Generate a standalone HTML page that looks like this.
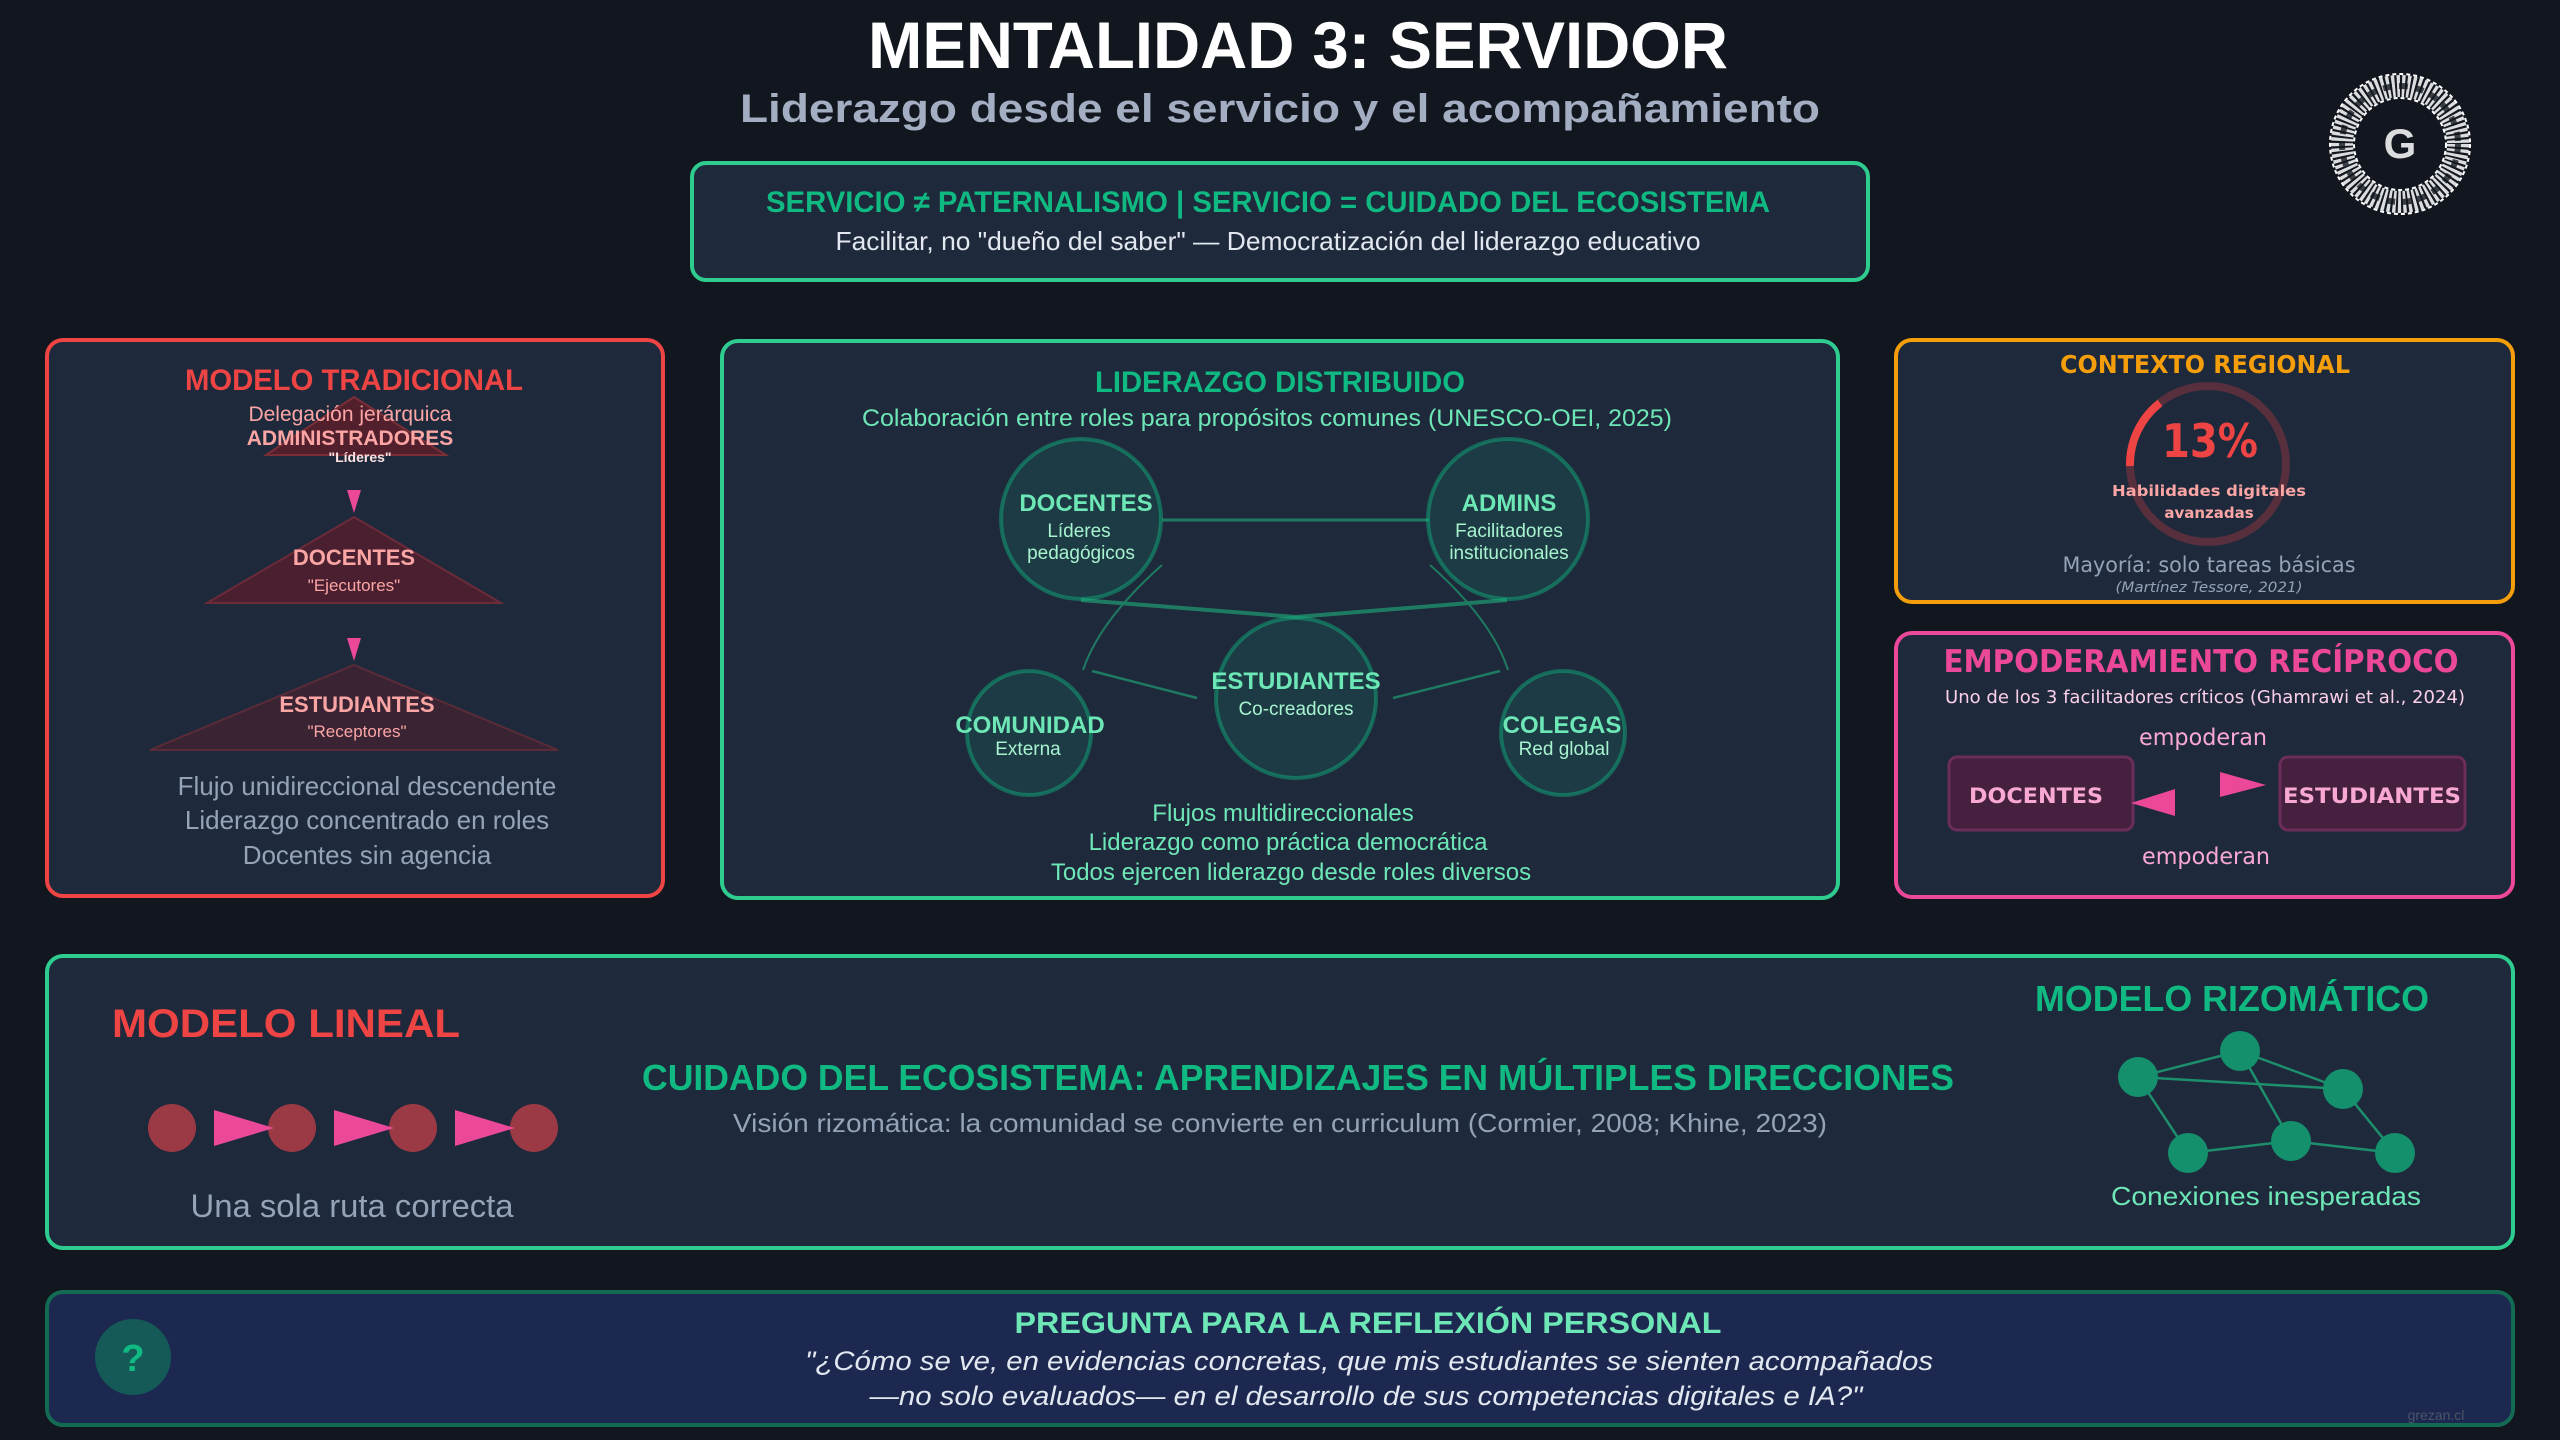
<!DOCTYPE html>
<html><head><meta charset="utf-8"><style>
html,body{margin:0;padding:0;background:#12161f;}
svg{display:block}
text{font-family:"Liberation Sans",Arial,sans-serif}
.dj{font-family:"DejaVu Sans","Liberation Sans",sans-serif}
</style></head><body>
<svg width="2560" height="1440" viewBox="0 0 2560 1440" xmlns="http://www.w3.org/2000/svg">
<rect width="2560" height="1440" fill="#12161f"/>
<!-- header -->
<text x="1298" y="68" font-size="66" font-weight="bold" fill="#ffffff" text-anchor="middle" textLength="860" lengthAdjust="spacingAndGlyphs">MENTALIDAD 3: SERVIDOR</text>
<text x="1280" y="122" font-size="40" font-weight="bold" fill="#a3aec2" text-anchor="middle" textLength="1080" lengthAdjust="spacingAndGlyphs">Liderazgo desde el servicio y el acompañamiento</text>
<!-- logo -->
<g transform="translate(2400,144)">
<circle r="58" fill="none" stroke="#ffffff" stroke-width="22" stroke-dasharray="3 2" opacity="0.85"/>
<circle r="58" fill="none" stroke="#12161f" stroke-width="6" stroke-dasharray="9 7" opacity="0.8"/>
<circle r="70" fill="none" stroke="#ffffff" stroke-width="2" stroke-dasharray="4 3"/>
<circle r="46" fill="none" stroke="#ffffff" stroke-width="2" stroke-dasharray="4 3"/>
<text x="0" y="14" font-size="42" font-weight="bold" fill="#ffffff" text-anchor="middle" opacity="0.85">G</text>
</g>
<!-- top box -->
<rect x="692" y="163" width="1176" height="117" rx="14" fill="#1e293b" stroke="#2ecc8f" stroke-width="4"/>
<text x="1268" y="212" font-size="30" font-weight="bold" fill="#10b981" text-anchor="middle" textLength="1004" lengthAdjust="spacingAndGlyphs">SERVICIO ≠ PATERNALISMO | SERVICIO = CUIDADO DEL ECOSISTEMA</text>
<text x="1268" y="250" font-size="26" fill="#e2e8f0" text-anchor="middle" textLength="865" lengthAdjust="spacingAndGlyphs">Facilitar, no "dueño del saber" — Democratización del liderazgo educativo</text>

<!-- left box -->
<rect x="47" y="340" width="616" height="556" rx="16" fill="#1e293b" stroke="#ef4444" stroke-width="4"/>
<text x="354" y="390" font-size="30" font-weight="bold" fill="#ef4444" text-anchor="middle" textLength="338" lengthAdjust="spacingAndGlyphs">MODELO TRADICIONAL</text>
<polygon points="354,397 446,455 266,455" fill="#5c1f2b" fill-opacity="0.85" stroke="#7a2e38" stroke-width="2"/>
<text x="350" y="421" font-size="21" fill="#fca5a5" text-anchor="middle">Delegación jerárquica</text>
<text x="350" y="445" font-size="21" font-weight="bold" fill="#fca5a5" text-anchor="middle">ADMINISTRADORES</text>
<text x="360" y="462" font-size="14" font-weight="bold" fill="#fde2e2" text-anchor="middle">"Líderes"</text>
<polygon points="347,490 361,490 354,513" fill="#ec4899"/>
<polygon points="354,517 501,603 207,603" fill="#4a2030" stroke="#6b2b38" stroke-width="2"/>
<text x="354" y="565" font-size="22" font-weight="bold" fill="#fca5a5" text-anchor="middle">DOCENTES</text>
<text x="354" y="591" font-size="17" fill="#fca5a5" text-anchor="middle">"Ejecutores"</text>
<polygon points="347,638 361,638 354,661" fill="#ec4899"/>
<polygon points="354,665 558,750 150,750" fill="#3a2333" stroke="#5a2b38" stroke-width="2"/>
<text x="357" y="712" font-size="22" font-weight="bold" fill="#fca5a5" text-anchor="middle">ESTUDIANTES</text>
<text x="357" y="737" font-size="17" fill="#fca5a5" text-anchor="middle">"Receptores"</text>
<text x="367" y="795" font-size="26" fill="#94a3b8" text-anchor="middle">Flujo unidireccional descendente</text>
<text x="367" y="829" font-size="26" fill="#94a3b8" text-anchor="middle">Liderazgo concentrado en roles</text>
<text x="367" y="864" font-size="26" fill="#94a3b8" text-anchor="middle">Docentes sin agencia</text>

<!-- center box -->
<rect x="722" y="341" width="1116" height="557" rx="16" fill="#1e293b" stroke="#2ecc8f" stroke-width="4"/>
<text x="1280" y="392" font-size="30" font-weight="bold" fill="#10b981" text-anchor="middle" textLength="370" lengthAdjust="spacingAndGlyphs">LIDERAZGO DISTRIBUIDO</text>
<text x="1267" y="426" font-size="24" fill="#6ee7b7" text-anchor="middle" textLength="810" lengthAdjust="spacingAndGlyphs">Colaboración entre roles para propósitos comunes (UNESCO-OEI, 2025)</text>
<g stroke="#1f7a62" fill="none">
<line x1="1162" y1="520" x2="1429" y2="520" stroke-width="3"/>
<line x1="1081" y1="600" x2="1296" y2="617" stroke-width="4"/>
<line x1="1507" y1="600" x2="1296" y2="617" stroke-width="4"/>
<path d="M1162,565 Q1100,620 1083,670" stroke-width="2"/>
<line x1="1092" y1="671" x2="1197" y2="698" stroke-width="2.5"/>
<path d="M1430,565 Q1492,620 1508,670" stroke-width="2"/>
<line x1="1500" y1="671" x2="1393" y2="698" stroke-width="2.5"/>
</g>
<g fill="#10b981" fill-opacity="0.13" stroke="#10b981" stroke-opacity="0.45" stroke-width="4">
<circle cx="1081" cy="519" r="80"/>
<circle cx="1508" cy="519" r="80"/>
<circle cx="1296" cy="698" r="80"/>
<circle cx="1029" cy="733" r="62"/>
<circle cx="1563" cy="733" r="62"/>
</g>
<g text-anchor="middle">
<text x="1086" y="511" font-size="24" font-weight="bold" fill="#6ee7b7">DOCENTES</text>
<text x="1079" y="537" font-size="19" fill="#a7f3d0">Líderes</text>
<text x="1081" y="559" font-size="19" fill="#a7f3d0">pedagógicos</text>
<text x="1509" y="511" font-size="24" font-weight="bold" fill="#6ee7b7">ADMINS</text>
<text x="1509" y="537" font-size="19" fill="#a7f3d0">Facilitadores</text>
<text x="1509" y="559" font-size="19" fill="#a7f3d0">institucionales</text>
<text x="1296" y="689" font-size="24" font-weight="bold" fill="#6ee7b7">ESTUDIANTES</text>
<text x="1296" y="715" font-size="19" fill="#a7f3d0">Co-creadores</text>
<text x="1030" y="733" font-size="24" font-weight="bold" fill="#6ee7b7">COMUNIDAD</text>
<text x="1028" y="755" font-size="19" fill="#a7f3d0">Externa</text>
<text x="1562" y="733" font-size="24" font-weight="bold" fill="#6ee7b7">COLEGAS</text>
<text x="1564" y="755" font-size="19" fill="#a7f3d0">Red global</text>
<text x="1283" y="821" font-size="24" fill="#6ee7b7">Flujos multidireccionales</text>
<text x="1288" y="850" font-size="24" fill="#6ee7b7">Liderazgo como práctica democrática</text>
<text x="1291" y="880" font-size="24" fill="#6ee7b7">Todos ejercen liderazgo desde roles diversos</text>
</g>

<!-- contexto regional -->
<rect x="1896" y="340" width="617" height="262" rx="16" fill="#1e293b" stroke="#f59e0b" stroke-width="4"/>
<text class="dj" x="2205" y="373" font-size="25" font-weight="bold" fill="#f59e0b" text-anchor="middle" textLength="290" lengthAdjust="spacingAndGlyphs">CONTEXTO REGIONAL</text>
<circle cx="2208" cy="464" r="78" fill="none" stroke="#ef4444" stroke-opacity="0.28" stroke-width="8"/>
<path d="M2130,466 A78,78 0 0 1 2160,403" fill="none" stroke="#ef4444" stroke-width="8"/>
<text class="dj" x="2210" y="457" font-size="46" font-weight="bold" fill="#ef4444" text-anchor="middle" textLength="96" lengthAdjust="spacingAndGlyphs">13%</text>
<text class="dj" x="2209" y="496" font-size="15" font-weight="bold" fill="#fca5a5" text-anchor="middle" textLength="194" lengthAdjust="spacingAndGlyphs">Habilidades digitales</text>
<text class="dj" x="2209" y="518" font-size="15" font-weight="bold" fill="#fca5a5" text-anchor="middle">avanzadas</text>
<text class="dj" x="2209" y="572" font-size="21" fill="#94a3b8" text-anchor="middle" textLength="293" lengthAdjust="spacingAndGlyphs">Mayoría: solo tareas básicas</text>
<text class="dj" x="2209" y="592" font-size="14" font-style="italic" fill="#94a3b8" text-anchor="middle" textLength="187" lengthAdjust="spacingAndGlyphs">(Martínez Tessore, 2021)</text>

<!-- empoderamiento -->
<rect x="1896" y="633" width="617" height="264" rx="16" fill="#1e293b" stroke="#ec4899" stroke-width="4"/>
<text class="dj" x="2201" y="672" font-size="31" font-weight="bold" fill="#ec4899" text-anchor="middle" textLength="515" lengthAdjust="spacingAndGlyphs">EMPODERAMIENTO RECÍPROCO</text>
<text class="dj" x="2205" y="703" font-size="18" fill="#fbcfe8" text-anchor="middle" textLength="520" lengthAdjust="spacingAndGlyphs">Uno de los 3 facilitadores críticos (Ghamrawi et al., 2024)</text>
<text class="dj" x="2203" y="745" font-size="23" fill="#f9a8d4" text-anchor="middle" textLength="128" lengthAdjust="spacingAndGlyphs">empoderan</text>
<rect x="1949" y="757" width="184" height="73" rx="8" fill="#45203f" stroke="#6b2d5a" stroke-width="3"/>
<text class="dj" x="2036" y="803" font-size="21" font-weight="bold" fill="#f9a8d4" text-anchor="middle" textLength="134" lengthAdjust="spacingAndGlyphs">DOCENTES</text>
<rect x="2280" y="757" width="185" height="73" rx="8" fill="#45203f" stroke="#6b2d5a" stroke-width="3"/>
<text class="dj" x="2372" y="803" font-size="21" font-weight="bold" fill="#f9a8d4" text-anchor="middle" textLength="178" lengthAdjust="spacingAndGlyphs">ESTUDIANTES</text>
<polygon points="2220,772 2266,785 2220,797" fill="#ec4899"/>
<polygon points="2175,789 2131,803 2175,816" fill="#ec4899"/>
<text class="dj" x="2206" y="864" font-size="23" fill="#f9a8d4" text-anchor="middle" textLength="128" lengthAdjust="spacingAndGlyphs">empoderan</text>

<!-- bottom box -->
<rect x="47" y="956" width="2466" height="292" rx="16" fill="#1e293b" stroke="#2ecc8f" stroke-width="4"/>
<text x="112" y="1037" font-size="40" font-weight="bold" fill="#ef4444" textLength="348" lengthAdjust="spacingAndGlyphs">MODELO LINEAL</text>
<g fill="#9b3a44">
<circle cx="172" cy="1128" r="24"/><circle cx="292" cy="1128" r="24"/><circle cx="413" cy="1128" r="24"/><circle cx="534" cy="1128" r="24"/>
</g>
<g fill="#ec4899">
<polygon points="214,1110 274,1128 214,1146"/><polygon points="334,1110 394,1128 334,1146"/><polygon points="455,1110 515,1128 455,1146"/>
</g>
<text x="352" y="1217" font-size="32" fill="#94a3b8" text-anchor="middle" textLength="323" lengthAdjust="spacingAndGlyphs">Una sola ruta correcta</text>
<text x="1298" y="1090" font-size="36" font-weight="bold" fill="#10b981" text-anchor="middle" textLength="1312" lengthAdjust="spacingAndGlyphs">CUIDADO DEL ECOSISTEMA: APRENDIZAJES EN MÚLTIPLES DIRECCIONES</text>
<text x="1280" y="1132" font-size="26" fill="#94a3b8" text-anchor="middle" textLength="1094" lengthAdjust="spacingAndGlyphs">Visión rizomática: la comunidad se convierte en curriculum (Cormier, 2008; Khine, 2023)</text>
<text x="2232" y="1011" font-size="36" font-weight="bold" fill="#10b981" text-anchor="middle" textLength="394" lengthAdjust="spacingAndGlyphs">MODELO RIZOMÁTICO</text>
<g stroke="#1d8f6c" stroke-width="2.5">
<line x1="2138" y1="1077" x2="2240" y2="1051"/><line x1="2240" y1="1051" x2="2343" y2="1089"/>
<line x1="2138" y1="1077" x2="2343" y2="1089"/><line x1="2138" y1="1077" x2="2188" y2="1153"/>
<line x1="2188" y1="1153" x2="2291" y2="1141"/><line x1="2291" y1="1141" x2="2395" y2="1153"/>
<line x1="2240" y1="1051" x2="2291" y2="1141"/><line x1="2343" y1="1089" x2="2395" y2="1153"/>
</g>
<g fill="#14906c">
<circle cx="2138" cy="1077" r="20"/><circle cx="2240" cy="1051" r="20"/><circle cx="2343" cy="1089" r="20"/>
<circle cx="2188" cy="1153" r="20"/><circle cx="2291" cy="1141" r="20"/><circle cx="2395" cy="1153" r="20"/>
</g>
<text x="2266" y="1205" font-size="26" fill="#6ee7b7" text-anchor="middle" textLength="310" lengthAdjust="spacingAndGlyphs">Conexiones inesperadas</text>

<!-- question box -->
<rect x="47" y="1292" width="2466" height="133" rx="16" fill="#1c2850" stroke="#146b54" stroke-width="4"/>
<circle cx="133" cy="1357" r="38" fill="#155a57"/>
<text x="133" y="1371" font-size="38" font-weight="bold" fill="#10b981" text-anchor="middle">?</text>
<text x="1368" y="1333" font-size="30" font-weight="bold" fill="#6ee7b7" text-anchor="middle" textLength="707" lengthAdjust="spacingAndGlyphs">PREGUNTA PARA LA REFLEXIÓN PERSONAL</text>
<text x="1369" y="1370" font-size="27" font-style="italic" fill="#e2e8f0" text-anchor="middle" textLength="1128" lengthAdjust="spacingAndGlyphs">"¿Cómo se ve, en evidencias concretas, que mis estudiantes se sienten acompañados</text>
<text x="1366" y="1405" font-size="27" font-style="italic" fill="#e2e8f0" text-anchor="middle" textLength="993" lengthAdjust="spacingAndGlyphs">—no solo evaluados— en el desarrollo de sus competencias digitales e IA?"</text>
<text x="2436" y="1420" font-size="14" fill="#4b5568" text-anchor="middle">grezan.cl</text>
</svg>
</body></html>
